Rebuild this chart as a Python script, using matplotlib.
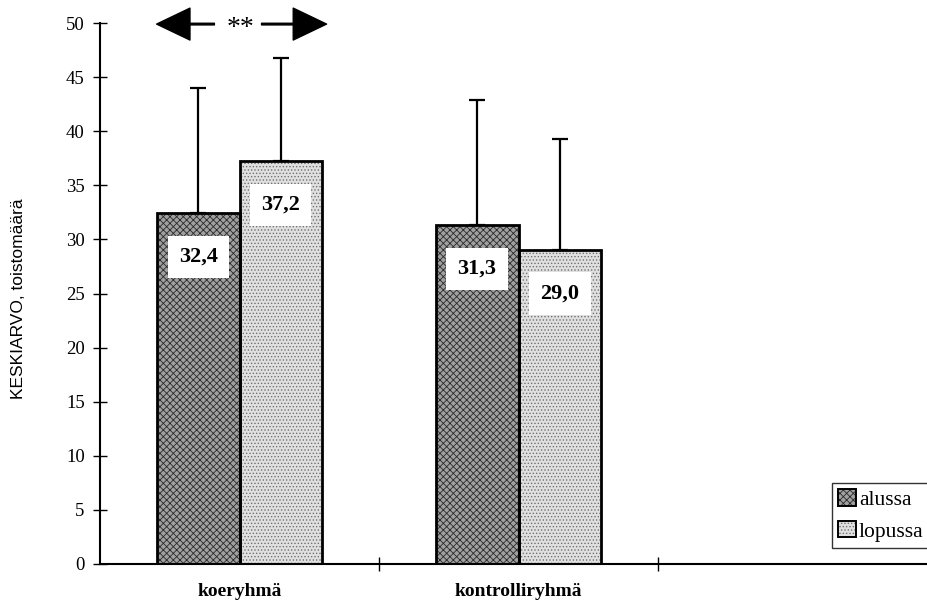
import matplotlib.pyplot as plt
from matplotlib.patches import Patch

# Ryhmät, mittaukset ja keskiarvot
ryhmat = ['koeryhmä', 'kontrolliryhmä']
mittaukset = ['alussa', 'lopussa']
alussa = [32.4, 31.3]
lopussa = [37.2, 29.0]
# keskihajonnat (vain ylöspäin)
sd_alussa = [11.6, 11.6]
sd_lopussa = [9.6, 10.3]
y_ticks = [0, 5, 10, 15, 20, 25, 30, 35, 40, 45, 50]

serif = 'Liberation Serif'
sans = 'Liberation Sans'

fig = plt.figure(figsize=(9.27, 6.09), dpi=100)
ax = fig.add_axes([100 / 927, 45 / 609, 827 / 927, 541 / 609])

lev = 0.297
x = [0, 1]
x_a = [i - lev / 2 for i in x]
x_l = [i + lev / 2 for i in x]

# tyylit: rasterikuvio + musta reuna
tyyli_a = dict(facecolor='#a0a0a0', edgecolor='#2a2a2a', hatch='xxxxx', linewidth=0)
tyyli_l = dict(facecolor='#e0e0e0', edgecolor='#707070', hatch='.....', linewidth=0)
plt.rcParams['hatch.linewidth'] = 0.6

ax.bar(x_a, alussa, lev, zorder=2, **tyyli_a)
ax.bar(x_a, alussa, lev, facecolor='none', edgecolor='black', linewidth=2, zorder=3)
ax.bar(x_l, lopussa, lev, zorder=2, **tyyli_l)
ax.bar(x_l, lopussa, lev, facecolor='none', edgecolor='black', linewidth=2, zorder=3)

# hajonnat
ax.errorbar(x_a, alussa, yerr=[[0, 0], sd_alussa], fmt='none', ecolor='black',
            elinewidth=1.6, capsize=5.5, capthick=1.6, zorder=1)
ax.errorbar(x_l, lopussa, yerr=[[0, 0], sd_lopussa], fmt='none', ecolor='black',
            elinewidth=1.6, capsize=5.5, capthick=1.6, zorder=1)

# arvot valkoisiin laatikoihin
for xs, arvot in [(x_a, alussa), (x_l, lopussa)]:
    for xi, v in zip(xs, arvot):
        ax.text(xi, v - 4, f'{v:.1f}'.replace('.', ','), ha='center', va='center',
                fontsize=16, fontweight='bold', family=serif, zorder=4,
                bbox=dict(boxstyle='square,pad=0.5', facecolor='white', edgecolor='none'))

# merkitsevyysnuoli
ay = 49.9
for alku, loppu in [(-0.09, -0.297), (0.079, 0.312)]:
    ax.annotate('', xy=(loppu, ay), xytext=(alku, ay), annotation_clip=False,
                arrowprops=dict(facecolor='black', edgecolor='black', width=1.2,
                                headwidth=23, headlength=24, shrink=0))
ax.text(0.005, ay - 0.4, '**', ha='center', va='center', fontsize=20,
        family=serif)

# akselit
ax.set_xlim(-0.5, 2.464)
ax.set_ylim(0, 50)
ax.set_yticks(y_ticks)
ax.set_yticklabels([str(t) for t in y_ticks], family=serif, fontsize=13.5)
ax.tick_params(axis='y', direction='inout', length=10, width=1, pad=6)
ax.set_xticks([0.5, 1.5])
ax.set_xticklabels([])
ax.tick_params(axis='x', which='major', direction='inout', length=10, width=1)
ax.set_xticks(x, minor=True)
ax.set_xticklabels(ryhmat, minor=True, family=serif, fontsize=14, fontweight='bold')
ax.tick_params(axis='x', which='minor', length=0, pad=14)
for s in ['top', 'right']:
    ax.spines[s].set_visible(False)
ax.spines['left'].set_linewidth(1.5)
ax.spines['bottom'].set_linewidth(1.5)
ax.set_ylabel('KESKIARVO, toistomäärä', family=sans, fontsize=12.5)
ax.yaxis.set_label_coords(-74 / 827, 0.49)

# selite
kahvat = [
    (Patch(**tyyli_a), Patch(facecolor='none', edgecolor='black', linewidth=1.4)),
    (Patch(**tyyli_l), Patch(facecolor='none', edgecolor='black', linewidth=1.4)),
]
leg = fig.legend(kahvat, mittaukset, loc='upper left',
                 bbox_to_anchor=(832 / 927, 1 - 483 / 609),
                 prop=dict(family=serif, size=15.5), handlelength=0.8, handleheight=0.8,
                 handletextpad=0.15, borderpad=0.3, labelspacing=0.5,
                 fancybox=False, frameon=True, borderaxespad=0)
leg.get_frame().set_edgecolor('black')
leg.get_frame().set_linewidth(1)

plt.savefig('out.png', dpi=100)
